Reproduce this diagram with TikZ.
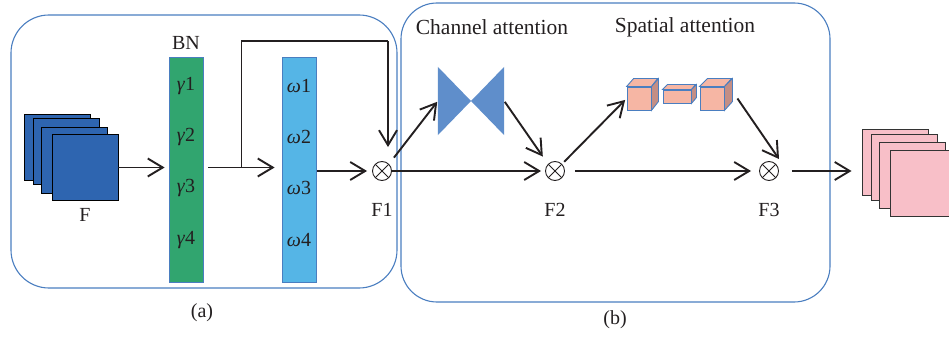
\documentclass[tikz,border=0pt]{standalone}
\usepackage{fontspec}
\setmainfont{Liberation Serif}
\usetikzlibrary{arrows.meta,calc}
\definecolor{boxblue}{HTML}{4A7EC0}
\definecolor{fblue}{HTML}{2E65B0}
\definecolor{bngreen}{HTML}{31A56F}
\definecolor{omblue}{HTML}{55B5E6}
\definecolor{bowblue}{HTML}{5F8ECB}
\definecolor{cubefront}{HTML}{F6B6A4}
\definecolor{cubeside}{HTML}{C48E85}
\definecolor{outpink}{HTML}{F8BFC8}
\definecolor{txt}{HTML}{231F20}
\tikzset{
  panel/.style={draw=boxblue, line width=1.1pt, rounded corners=38pt},
  fmap/.style={draw=black, line width=0.9pt, fill=fblue, minimum width=66pt, minimum height=66pt, inner sep=0pt},
  omap/.style={draw=black!80, line width=0.9pt, fill=outpink, minimum width=66pt, minimum height=66pt, inner sep=0pt},
  bar/.style={draw=boxblue, line width=0.8pt, minimum width=34pt, minimum height=225pt, inner sep=0pt},
  mult/.style={circle, draw=txt, line width=0.9pt, minimum size=19pt, inner sep=0pt,
    path picture={\draw[line width=0.8pt] (path picture bounding box.north west) -- (path picture bounding box.south east)
      (path picture bounding box.south west) -- (path picture bounding box.north east);}},
  flow/.style={draw=txt, line width=1.9pt, -{Straight Barb[length=15pt,width=18pt,line width=1.9pt]}},
  lbl/.style={text=txt, font=\fontsize{20}{24}\selectfont, inner sep=0pt},
  big/.style={text=txt, font=\fontsize{21.5}{25}\selectfont, inner sep=0pt},
  sym/.style={text=txt, font=\fontsize{20}{24}\selectfont, inner sep=0pt},
  cubeface/.style={draw=boxblue, line width=0.9pt, fill=cubefront, inner sep=0pt},
}
\begin{document}
\begin{tikzpicture}[x=1pt,y=-1pt]
\useasboundingbox (0,0) rectangle (949,339);
% panels
\draw[panel] (11,15) rectangle (397,288);
\draw[panel, rounded corners=36pt] (401,3) rectangle (830,302);
\node[lbl] (la) at (202,313) {(a)};
\node[lbl] (lb) at (615,320) {(b)};
% input feature maps
\node[fmap] (Fa) at (57.5,147.5) {};
\node[fmap] (Fb) at (66,151.5) {};
\node[fmap] (Fc) at (74.5,160) {};
\node[fmap] (Fd) at (85,167.5) {};
\node[lbl] (Flab) at (85,215) {F};
% BN bar
\node[bar, fill=bngreen] (BN) at (186,169.5) {};
\node[lbl] (BNlab) at (186,43) {BN};
\node[sym] (g1) at (186,86) {\textit{γ}1};
\node[sym] (g2) at (186,137) {\textit{γ}2};
\node[sym] (g3) at (186,188) {\textit{γ}3};
\node[sym] (g4) at (186,240) {\textit{γ}4};
% omega bar
\node[bar, fill=omblue] (OM) at (299,169.5) {};
\node[sym] (w1) at (299,86) {\textit{ω}1};
\node[sym] (w2) at (299,137) {\textit{ω}2};
\node[sym] (w3) at (299,188) {\textit{ω}3};
\node[sym] (w4) at (299,240) {\textit{ω}4};
% multiplication nodes
\node[mult] (F1) at (382,171) {};
\node[mult] (F2) at (555,171) {};
\node[mult] (F3) at (769,171) {};
\node[lbl] (F1lab) at (382,210) {F1};
\node[lbl] (F2lab) at (555,210) {F2};
\node[lbl] (F3lab) at (769,210) {F3};
% channel attention bowtie
\node[big] (CA) at (492,27) {Channel attention};
\node[minimum width=66pt, minimum height=68pt, inner sep=0pt] (bow) at (471,101) {};
\fill[bowblue] (bow.north west) -- (bow.center) -- (bow.south west) -- cycle;
\fill[bowblue] (bow.north east) -- (bow.center) -- (bow.south east) -- cycle;
% spatial attention cubes
\node[big] (SA) at (685,27) {Spatial attention};
\node[cubeface, minimum width=24pt, minimum height=23pt] (c1) at (639,98.5) {};
\draw[cubeface] (c1.north west) -- ++(7,-8) -- ++(24,0) -- (c1.north east) -- cycle;
\draw[cubeface, fill=cubeside] (c1.north east) -- ++(7,-8) -- ++(0,23) -- (c1.south east) -- cycle;
\node[cubeface, minimum width=28pt, minimum height=13pt] (c2) at (677,96.5) {};
\draw[cubeface] (c2.north west) -- ++(5,-5) -- ++(28,0) -- (c2.north east) -- cycle;
\draw[cubeface, fill=cubeside] (c2.north east) -- ++(5,-5) -- ++(0,13) -- (c2.south east) -- cycle;
\node[cubeface, minimum width=24pt, minimum height=23pt] (c3) at (712,98.5) {};
\draw[cubeface] (c3.north west) -- ++(8,-8) -- ++(24,0) -- (c3.north east) -- cycle;
\draw[cubeface, fill=cubeside] (c3.north east) -- ++(8,-8) -- ++(0,23) -- (c3.south east) -- cycle;
% output feature maps
\node[omap] (O1) at (895,162.5) {};
\node[omap] (O2) at (904,167) {};
\node[omap] (O3) at (912.5,175) {};
\node[omap] (O4) at (923,183) {};
% connectors
\draw[flow, shorten >=4pt] (Fd.east) -- (Fd.east -| BN.west);
\coordinate (br) at ($(BN.east |- Fd.east)+(38,0)$);
\draw[flow, shorten <=5pt, shorten >=7pt] (BN.east |- Fd.east) -- (OM.west |- Fd.east);
\coordinate (sk) at ($(F1.north)+(6,-120)$);
\draw[draw=txt, line width=1.2pt] (br) |- (sk);
\draw[flow, line width=1.5pt, shorten >=14pt] (sk) -- (sk |- F1.north);
\draw[flow, shorten <=1pt, shorten >=5pt] (OM.east |- F1.west) -- (F1.west);
\draw[flow, shorten <=0pt, shorten >=4pt] (F1.east) -- (F2.west);
\draw[flow, shorten <=8pt, shorten >=1pt] (F1.north east) -- (bow.west);
\draw[flow, shorten <=1pt, shorten >=9pt] (bow.east) -- (F2.north west);
\draw[flow, shorten <=3pt, shorten >=2pt] (F2.north east) -- (c1.west);
\draw[flow, shorten <=10pt, shorten >=8pt] (F2.east) -- (F3.west);
\coordinate (c3o) at ($(c3.east)+(13,0)$);
\draw[flow] (c3o) -- ($(F3)+(10,-12)$);
\draw[flow, shorten <=13pt, shorten >=10pt] (F3.east) -- (F3.east -| O1.west);
\end{tikzpicture}
\end{document}
